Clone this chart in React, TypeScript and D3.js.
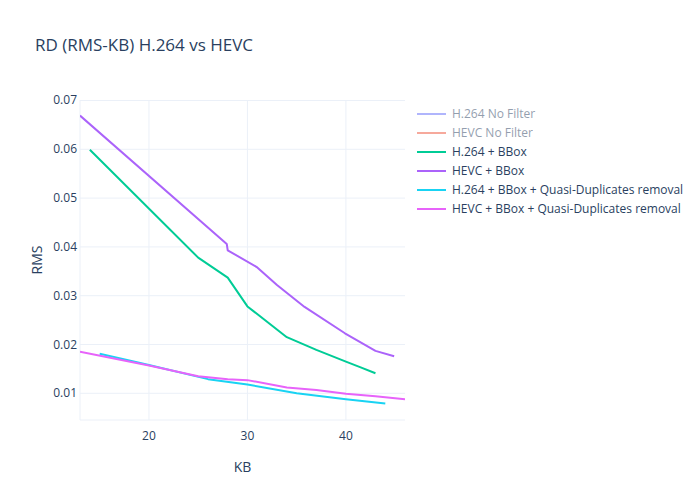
import React, { useEffect, useRef } from "react";
import * as d3 from "d3";

// values (KB, RMS)
const bboxH264X = [14, 25, 28, 30, 34, 37, 40, 41.5, 43];
const bboxH264Y = [0.0599, 0.0378, 0.0337, 0.0278, 0.0215, 0.0189, 0.0165, 0.0153, 0.0141];

const bboxHevcX = [13, 27.9, 28, 31, 33, 35.8, 39.9, 43, 44.9];
const bboxHevcY = [0.0669, 0.0406, 0.0393, 0.0358, 0.0322, 0.0277, 0.0223, 0.0187, 0.0176];

const qdH264X = [15, 20, 26, 30, 35, 40, 44];
const qdH264Y = [0.0181, 0.0158, 0.0129, 0.0118, 0.01, 0.0088, 0.0079];

const qdHevcX = [13, 20, 25, 28, 30, 34, 37, 40, 43, 46];
const qdHevcY = [0.0185, 0.0157, 0.0135, 0.0129, 0.0127, 0.0112, 0.0107, 0.0099, 0.0094, 0.0088];

const seriesNames = [
  "H.264 No Filter",
  "HEVC No Filter",
  "H.264 + BBox",
  "HEVC + BBox",
  "H.264 + BBox + Quasi-Duplicates removal",
  "HEVC + BBox + Quasi-Duplicates removal",
];
const seriesColors = ["#636efa", "#EF553B", "#00cc96", "#ab63fa", "#19d3f3", "#e763fa"];
const hiddenSeries = [true, true, false, false, false, false];

const xTicks = [20, 30, 40];
const yTicks = [0.01, 0.02, 0.03, 0.04, 0.05, 0.06, 0.07];

const App: React.FC = () => {
  const svgRef = useRef<SVGSVGElement | null>(null);

  useEffect(() => {
    if (!svgRef.current) return;
    const width = 700;
    const height = 500;
    const margin = { top: 100, right: 295, bottom: 80, left: 80 };
    const font = "'Open Sans', 'Noto Sans', sans-serif";
    const textColor = "#2a3f5f";
    const gridColor = "#ebf0f8";

    const svg = d3.select(svgRef.current).attr("width", width).attr("height", height);
    svg.selectAll("*").remove();

    svg.append("rect").attr("width", width).attr("height", height).attr("fill", "#fff");

    const x = d3.scaleLinear().domain([13, 46]).range([margin.left, width - margin.right]);
    const y = d3.scaleLinear().domain([0.00453, 0.0701]).range([height - margin.bottom, margin.top]);

    // grid
    svg
      .append("g")
      .selectAll("line")
      .data(xTicks)
      .enter()
      .append("line")
      .attr("x1", (d) => x(d))
      .attr("x2", (d) => x(d))
      .attr("y1", margin.top)
      .attr("y2", height - margin.bottom)
      .style("stroke", gridColor)
      .style("stroke-width", 1);

    svg
      .append("g")
      .selectAll("line")
      .data(yTicks)
      .enter()
      .append("line")
      .attr("x1", margin.left)
      .attr("x2", width - margin.right)
      .attr("y1", (d) => y(d))
      .attr("y2", (d) => y(d))
      .style("stroke", gridColor)
      .style("stroke-width", 1);

    // axis lines (left and bottom)
    svg
      .append("line")
      .attr("x1", margin.left)
      .attr("x2", margin.left)
      .attr("y1", margin.top)
      .attr("y2", height - margin.bottom)
      .style("stroke", gridColor);
    svg
      .append("line")
      .attr("x1", margin.left)
      .attr("x2", width - margin.right)
      .attr("y1", height - margin.bottom)
      .attr("y2", height - margin.bottom)
      .style("stroke", gridColor);

    // tick labels
    svg
      .append("g")
      .selectAll("text")
      .data(xTicks)
      .enter()
      .append("text")
      .attr("x", (d) => x(d))
      .attr("y", height - margin.bottom + 20)
      .attr("text-anchor", "middle")
      .style("font-family", font)
      .style("font-size", "12px")
      .style("fill", textColor)
      .text((d) => String(d));

    svg
      .append("g")
      .selectAll("text")
      .data(yTicks)
      .enter()
      .append("text")
      .attr("x", margin.left - 3)
      .attr("y", (d) => y(d) + 4)
      .attr("text-anchor", "end")
      .style("font-family", font)
      .style("font-size", "12px")
      .style("fill", textColor)
      .text((d) => d3.format(".2f")(d));

    // axis titles
    svg
      .append("text")
      .attr("x", x(29.5))
      .attr("y", 472)
      .attr("text-anchor", "middle")
      .style("font-family", font)
      .style("font-size", "14px")
      .style("fill", textColor)
      .text("KB");
    svg
      .append("text")
      .attr("transform", `translate(42, ${(margin.top + height - margin.bottom) / 2}) rotate(-90)`)
      .attr("text-anchor", "middle")
      .style("font-family", font)
      .style("font-size", "14px")
      .style("fill", textColor)
      .text("RMS");

    // title
    svg
      .append("text")
      .attr("x", 35)
      .attr("y", 51)
      .style("font-family", font)
      .style("font-size", "17px")
      .style("fill", textColor)
      .text("RD (RMS-KB) H.264 vs HEVC");

    // lines
    const visible = [
      { xs: bboxH264X, ys: bboxH264Y, color: seriesColors[2] },
      { xs: bboxHevcX, ys: bboxHevcY, color: seriesColors[3] },
      { xs: qdH264X, ys: qdH264Y, color: seriesColors[4] },
      { xs: qdHevcX, ys: qdHevcY, color: seriesColors[5] },
    ];
    const line = d3
      .line<[number, number]>()
      .x((d) => x(d[0]))
      .y((d) => y(d[1]));

    svg
      .append("defs")
      .append("clipPath")
      .attr("id", "plot-clip")
      .append("rect")
      .attr("x", margin.left)
      .attr("y", margin.top)
      .attr("width", width - margin.left - margin.right)
      .attr("height", height - margin.top - margin.bottom);

    const plot = svg.append("g").attr("clip-path", "url(#plot-clip)");
    visible.forEach((s) => {
      const pts = s.xs.map((v, i) => [v, s.ys[i]] as [number, number]);
      plot
        .append("path")
        .datum(pts)
        .attr("d", line)
        .attr("fill", "none")
        .style("stroke", s.color)
        .style("stroke-width", 2)
        .style("stroke-linejoin", "round");
    });

    // legend
    const legend = svg.append("g").attr("transform", "translate(417, 114)");
    seriesNames.forEach((name, i) => {
      const g = legend
        .append("g")
        .attr("transform", `translate(0, ${i * 19})`)
        .style("opacity", hiddenSeries[i] ? 0.5 : 1);
      g.append("line")
        .attr("x1", 0)
        .attr("x2", 29)
        .attr("y1", 0)
        .attr("y2", 0)
        .style("stroke", seriesColors[i])
        .style("stroke-width", 2);
      g.append("text")
        .attr("x", 35)
        .attr("y", 4)
        .style("font-family", font)
        .style("font-size", "12px")
        .style("fill", textColor)
        .text(name);
    });
  }, []);

  return (
    <div>
      <svg ref={svgRef} style={{ position: "absolute", left: 0, top: 0 }}></svg>
    </div>
  );
};

export default App;
